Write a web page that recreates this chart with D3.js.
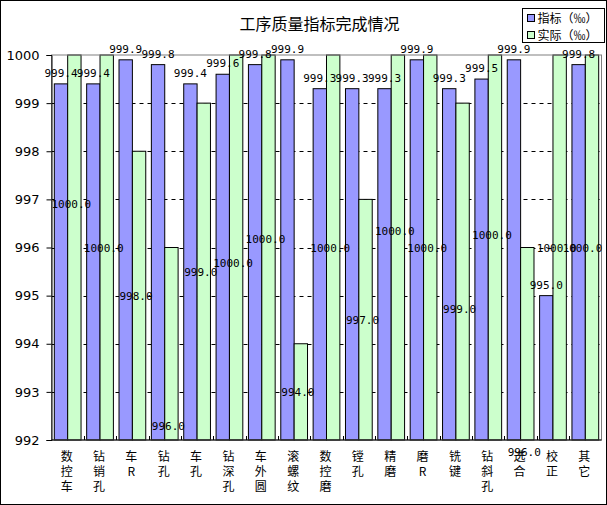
<!DOCTYPE html>
<html>
<head>
<meta charset="utf-8">
<script src="https://cdn.jsdelivr.net/npm/d3@7"></script>
<style>
  body { margin: 0; background: #fff; }
  svg { display: block; }
</style>
</head>
<body>
<div id="chart"></div>
<script>
// categories and values
var categories = ["数控车", "钻销孔", "车R", "钻孔", "车孔", "钻深孔", "车外圆", "滚螺纹", "数控磨",
	"镗孔", "精磨", "磨R", "铣键", "钻斜孔", "选合", "校正", "其它"];
var target = [999.4, 999.4, 999.9, 999.8, 999.4, 999.6, 999.8, 999.9, 999.3,
	999.3, 999.3, 999.9, 999.3, 999.5, 999.9, 995.0, 999.8];
var actual = [1000, 1000, 998, 996, 999, 1000, 1000, 994, 1000,
	997, 1000, 1000, 999, 1000, 996, 1000, 1000];
// labels of the second series that were dragged away from the bar middle (in axis units)
var actualLabelShift = [0.9, 0, 0, -1.7, 0, -0.33, 0.17, 0, 0,
	0, 0.34, 0, -0.78, 0.26, -2.25, 0, 0];
var seriesNames = ["指标（‰）", "实际（‰）"];
var yTicks = [992, 993, 994, 995, 996, 997, 998, 999, 1000];
var title = "工序质量指标完成情况";

var W = 607, H = 505;
var pLeft = 51.5, pRight = 601.5, pTop = 55, pBottom = 440;
var colors = ["#9999ff", "#ccffcc"];

var svg = d3.select("#chart").append("svg")
	.attr("width", W)
	.attr("height", H);

svg.append("rect")
	.attr("x", 0.5).attr("y", 0.5)
	.attr("width", W - 1).attr("height", H - 1)
	.attr("fill", "#fff")
	.attr("stroke", "#000");

var x = d3.scaleBand().domain(categories).range([pLeft, pRight]);
var xs = d3.scaleBand().domain([0, 1]).range([0, x.bandwidth()]).paddingOuter(0.21);
var y = d3.scaleLinear().domain([992, 1000]).range([pBottom, pTop]);

// dashed gridlines
svg.append("g")
	.selectAll("line")
	.data(yTicks.slice(1, -1))
	.enter().append("line")
	.attr("x1", pLeft).attr("x2", pRight)
	.attr("y1", function(d) { return Math.round(y(d)) + 0.5; })
	.attr("y2", function(d) { return Math.round(y(d)) + 0.5; })
	.attr("stroke", "#000")
	.attr("stroke-dasharray", "4,4");

// bars
var rows = categories.map(function(c, i) { return { cat: c, vals: [target[i], actual[i]], i: i }; });
var group = svg.append("g").selectAll("g")
	.data(rows)
	.enter().append("g")
	.attr("transform", function(d) { return "translate(" + x(d.cat) + ",0)"; });

group.selectAll("rect")
	.data(function(d) { return d.vals.map(function(v, k) { return { v: v, k: k }; }); })
	.enter().append("rect")
	.attr("x", function(d) { return xs(d.k); })
	.attr("width", xs.bandwidth())
	.attr("y", function(d) { return y(d.v); })
	.attr("height", function(d) { return pBottom - y(d.v); })
	.attr("fill", function(d) { return colors[d.k]; })
	.attr("stroke", "#000")
	.attr("stroke-width", 1);

// plot border
svg.append("rect")
	.attr("x", pLeft).attr("y", pTop)
	.attr("width", pRight - pLeft).attr("height", pBottom - pTop)
	.attr("fill", "none")
	.attr("stroke", "#808080");

// y axis
var yAxis = svg.append("g")
	.attr("transform", "translate(" + pLeft + ",0)")
	.call(d3.axisLeft(y).tickValues(yTicks).tickSize(5).tickPadding(7).tickFormat(d3.format("d")));
yAxis.select(".domain").attr("stroke", "#000");
yAxis.selectAll("text")
	.attr("font-family", "DejaVu Sans")
	.attr("font-size", 13)
	.attr("fill", "#000");

// x axis line and category ticks
svg.append("line")
	.attr("x1", pLeft).attr("x2", pRight)
	.attr("y1", pBottom).attr("y2", pBottom)
	.attr("stroke", "#000");
svg.append("g").selectAll("line")
	.data(categories.slice(1))
	.enter().append("line")
	.attr("x1", function(d) { return Math.round(x(d)) + 0.5; })
	.attr("x2", function(d) { return Math.round(x(d)) + 0.5; })
	.attr("y1", pBottom).attr("y2", pBottom - 4)
	.attr("stroke", "#000");

// category labels, one character per line
var catText = svg.append("g").selectAll("text")
	.data(categories)
	.enter().append("text")
	.attr("font-family", "Noto Sans CJK SC")
	.attr("font-size", 12)
	.attr("text-anchor", "middle")
	.attr("fill", "#000");
catText.selectAll("tspan")
	.data(function(d) { return d.split("").map(function(ch) { return { ch: ch, c: d }; }); })
	.enter().append("tspan")
	.attr("x", function(d) { return x(d.c) + x.bandwidth() / 2 - 1; })
	.attr("y", function(d, j) { return 461 + j * 15; })
	.text(function(d) { return d.ch; });

// value labels
var labelFont = "DejaVu Sans Mono";
svg.append("g").selectAll("text")
	.data(rows)
	.enter().append("text")
	.attr("x", function(d) { return x(d.cat) + xs(0) + xs.bandwidth() / 2; })
	.attr("y", function(d) { return y(d.vals[0]) - 7; })
	.attr("text-anchor", "middle")
	.attr("font-family", labelFont)
	.attr("font-size", 11)
	.text(function(d) { return d.vals[0].toFixed(1); });

svg.append("g").selectAll("text")
	.data(rows)
	.enter().append("text")
	.attr("x", function(d) {
		// keep the label inside the plot area, as Excel does
		return Math.min(x(d.cat) + xs(1) + xs.bandwidth() / 2 - 3, pRight - 19);
	})
	.attr("y", function(d) { return y((992 + d.vals[1]) / 2 + actualLabelShift[d.i]) + 4; })
	.attr("text-anchor", "middle")
	.attr("font-family", labelFont)
	.attr("font-size", 11)
	.text(function(d) { return d.vals[1].toFixed(1); });

// title
svg.append("text")
	.attr("x", 319.5)
	.attr("y", 30)
	.attr("text-anchor", "middle")
	.attr("font-family", "Noto Sans CJK SC")
	.attr("font-size", 16)
	.text(title);

// legend
var lg = svg.append("g").attr("transform", "translate(522.5,8.5)");
lg.append("rect")
	.attr("width", 82).attr("height", 34)
	.attr("fill", "#fff")
	.attr("stroke", "#000");
var item = lg.selectAll("g.item")
	.data(seriesNames)
	.enter().append("g")
	.attr("class", "item")
	.attr("transform", function(d, i) { return "translate(5," + (6 + i * 17) + ")"; });
item.append("rect")
	.attr("width", 7).attr("height", 7)
	.attr("fill", function(d, i) { return colors[i]; })
	.attr("stroke", "#000");
item.append("text")
	.attr("x", 10)
	.attr("y", 8)
	.attr("font-family", "Noto Sans CJK SC")
	.attr("font-size", 12)
	.text(function(d) { return d; });
</script>
</body>
</html>
